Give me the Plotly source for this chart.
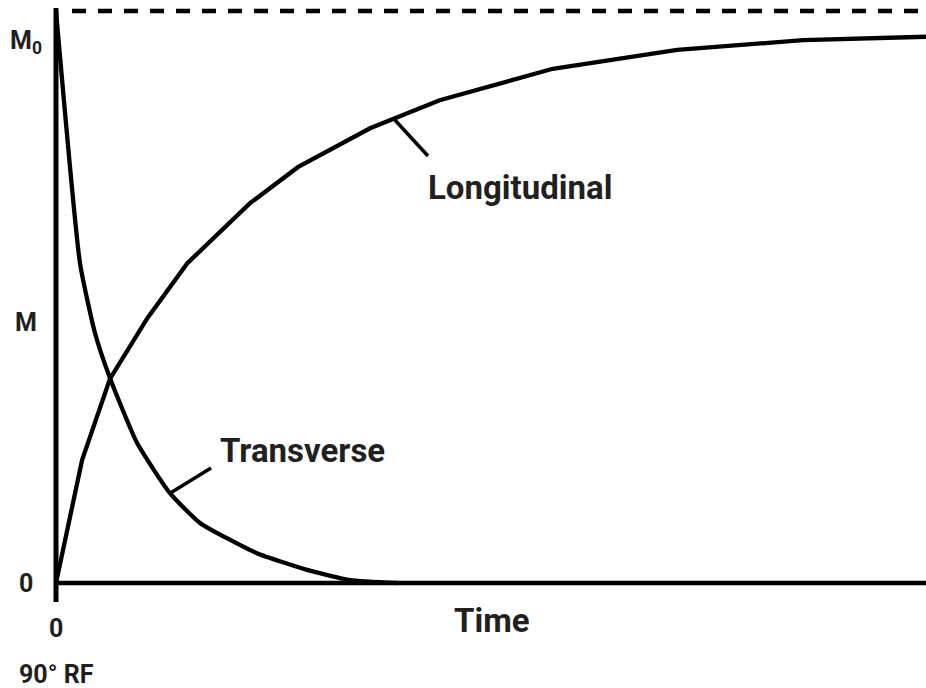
import plotly.graph_objects as go

# Magnetisation recovery after a 90° RF pulse (time in arbitrary units, M in units of M0)
long_t = [0.0, 0.30, 0.62, 1.05, 1.51, 2.23, 2.78, 3.61, 4.41, 5.71, 7.14, 8.59, 10.0]
long_m = [0.0, 0.215, 0.357, 0.463, 0.559, 0.664, 0.727, 0.795, 0.844, 0.899, 0.932, 0.949, 0.955]

trans_t = [0.0, 0.276, 0.448, 0.621, 0.931, 1.310, 1.655, 2.310, 2.885, 3.379, 3.920]
trans_m = [1.0, 0.559, 0.437, 0.358, 0.245, 0.157, 0.105, 0.052, 0.023, 0.005, 0.0]

curve_labels = ["Longitudinal", "Transverse"]
y_labels = ["0", "M", "M<sub>0</sub>"]
y_label_pos = [0.0, 0.455, 0.946]
x_label = "Time"
pulse_label = "90° RF"

FONT = "Roboto, Liberation Sans, sans-serif"
X_RANGE = [-56 / 87, 10.0]
Y_RANGE = [-105 / 572, 583 / 572]

fig = go.Figure()
fig.add_trace(go.Scatter(x=long_t, y=long_m, mode="lines",
                         line=dict(color="black", width=4.3), name=curve_labels[0]))
fig.add_trace(go.Scatter(x=trans_t, y=trans_m, mode="lines",
                         line=dict(color="black", width=4.3, shape="spline", smoothing=0.5),
                         name=curve_labels[1]))

# axes drawn as plain strokes
fig.add_shape(type="line", x0=0, x1=0, y0=-0.0332, y1=1.0052,
              line=dict(color="black", width=5))
fig.add_shape(type="line", x0=0, x1=10.0, y0=0, y1=0,
              line=dict(color="black", width=4.5))
# M0 asymptote
fig.add_shape(type="line", x0=0.184, x1=10.0, y0=1.0, y1=1.0,
              line=dict(color="black", width=4.5, dash="14px,12px"))

# leader lines to the curve labels
fig.add_shape(type="line", x0=3.874, y0=0.813, x1=4.276, y1=0.7465,
              line=dict(color="black", width=3.5))
fig.add_shape(type="line", x0=1.310, y0=0.157, x1=1.782, y1=0.201,
              line=dict(color="black", width=3.5))

big = dict(family=FONT, size=33, color="#231f20", weight=700)
small = dict(family=FONT, size=25, color="#231f20", weight=700)

fig.add_annotation(x=5.333, y=0.692, text=curve_labels[0], showarrow=False,
                   font=big, xanchor="center", yanchor="middle")
fig.add_annotation(x=2.839, y=0.2325, text=curve_labels[1], showarrow=False,
                   font=big, xanchor="center", yanchor="middle")
fig.add_annotation(x=5.01, y=-0.0647, text=x_label, showarrow=False,
                   font=big, xanchor="center", yanchor="middle")

for txt, yv in zip(y_labels, y_label_pos):
    fig.add_annotation(x=-0.345, y=yv, text=txt, showarrow=False,
                       font=small, xanchor="center", yanchor="middle")
fig.add_annotation(x=0.0, y=-0.080, text="0", showarrow=False,
                   font=small, xanchor="center", yanchor="middle")
fig.add_annotation(x=0.0, y=-0.160, text=pulse_label, showarrow=False,
                   font=small, xanchor="center", yanchor="middle")

fig.update_layout(
    width=926, height=688,
    margin=dict(l=0, r=0, t=0, b=0),
    paper_bgcolor="white", plot_bgcolor="white",
    showlegend=False,
    xaxis=dict(range=X_RANGE, visible=False, fixedrange=True),
    yaxis=dict(range=Y_RANGE, visible=False, fixedrange=True),
)

fig.write_html("out.html")
